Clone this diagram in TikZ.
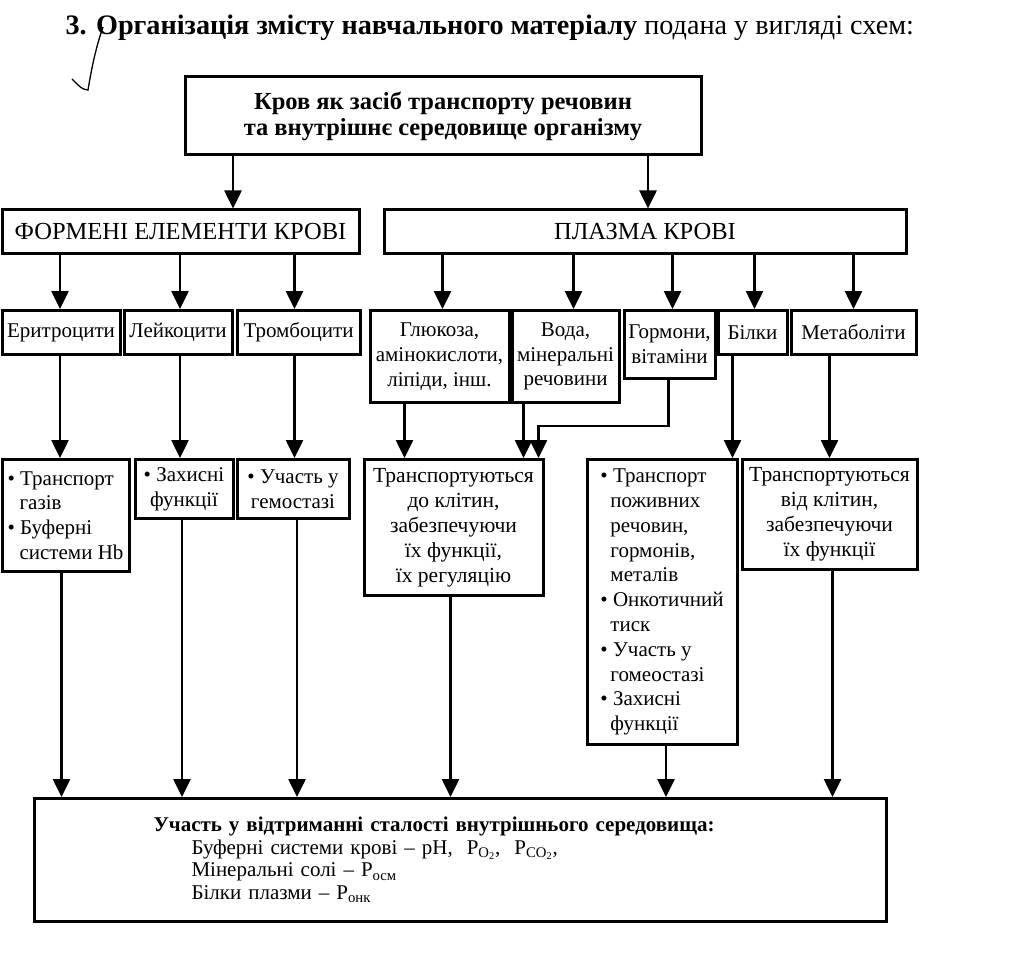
\documentclass[tikz,border=0pt]{standalone}
\usepackage{fontspec}
\setmainfont{Liberation Serif}
\usetikzlibrary{arrows.meta}

\begin{document}
\begin{tikzpicture}[x=1pt,y=-1pt,
        box/.style={draw, line width=3pt, inner sep=2pt, align=center, font=\fontsize{21}{24.8}\selectfont},
        arr/.style={line width=2.6pt, -{Triangle[length=18pt,width=17pt]}}]
        \useasboundingbox (0,0) rectangle (1013,963);
        % заголовок і позначка
        \node[anchor=base west, font=\fontsize{28.2}{30}\selectfont] (title) at (62,35) {\textbf{3. Організація змісту навчального матеріалу} подана у вигляді схем:};
        \draw[line width=1.3pt] (103,27) .. controls (95,50) and (91,72) .. (88,90) .. controls (82,89) .. (72,79);
        % верхній рівень
        \node[box, font=\bfseries\fontsize{24.5}{26}\selectfont, minimum width=516pt, minimum height=78pt] (top) at (443,116) {Кров як засіб транспорту речовин\\та внутрішнє середовище організму};
        \node[box, font=\fontsize{24.5}{26}\selectfont, minimum width=357pt, minimum height=43pt] (form) at (180.5,231.5) {ФОРМЕНІ ЕЛЕМЕНТИ КРОВІ};
        \node[box, font=\fontsize{24.5}{26}\selectfont, minimum width=522pt, minimum height=43pt] (plasma) at (645,231.5) {ПЛАЗМА КРОВІ};
        % складові
        \node[box, anchor=north, minimum width=118pt, minimum height=44pt] (eryth) at (61,309) {Еритроцити};
        \node[box, anchor=north, minimum width=108pt, minimum height=44pt] (leuk) at (178,309) {Лейкоцити};
        \node[box, anchor=north, minimum width=123pt, minimum height=44pt] (thromb) at (298.5,309) {Тромбоцити};
        \node[box, anchor=north, minimum width=139pt, minimum height=92pt] (gluc) at (439.5,309) {Глюкоза,\\амінокислоти,\\ліпіди, інш.};
        \node[box, anchor=north, minimum width=107pt, minimum height=92pt] (water) at (565.5,309) {Вода,\\мінеральні\\речовини};
        \node[box, anchor=north, minimum width=91pt, minimum height=68pt] (horm) at (669.5,309) {Гормони,\\вітаміни};
        \node[box, anchor=north, minimum width=69pt, minimum height=44pt] (prot) at (752.5,309) {Білки};
        \node[box, anchor=north, minimum width=125pt, minimum height=44pt] (metab) at (853.5,309) {Метаболіти};
        % функції
        \node[box, anchor=north, align=left, minimum width=127pt, minimum height=112pt] (fgas) at (65.5,458) {• Транспорт\\\hspace*{12pt}газів\\• Буферні\\\hspace*{12pt}системи Hb};
        \node[box, anchor=north, minimum width=98pt, minimum height=59pt] (fdef) at (184,458) {• Захисні\\функції};
        \node[box, anchor=north, minimum width=112pt, minimum height=59pt] (fhem) at (293,458) {• Участь у\\гемостазі};
        \node[box, anchor=north, font=\fontsize{21.5}{25}\selectfont, minimum width=179pt, minimum height=136pt] (fto) at (453.5,458) {Транспортуються\\до клітин,\\забезпечуючи\\їх функції,\\їх регуляцію};
        \node[box, anchor=north, align=left, minimum width=150pt, minimum height=285pt] (fprot) at (662,458) {• Транспорт\\\hspace*{10pt}поживних\\\hspace*{10pt}речовин,\\\hspace*{10pt}гормонів,\\\hspace*{10pt}металів\\• Онкотичний\\\hspace*{10pt}тиск\\• Участь у\\\hspace*{10pt}гомеостазі\\• Захисні\\\hspace*{10pt}функції};
        \node[box, anchor=north, font=\fontsize{21.5}{25}\selectfont, minimum width=175pt, minimum height=110pt] (ffrom) at (829.5,458) {Транспортуються\\від клітин,\\забезпечуючи\\їх функції};
        % підсумок
        \node[box, anchor=north west, align=left, text width=614pt, inner xsep=119pt, minimum height=123pt, font=\fontsize{21}{22.5}\selectfont] (sum) at (33,797) {\textbf{Участь у відтриманні сталості внутрішнього середовища:}\\\hspace*{38pt}Буферні системи крові – pH,~ P\textsubscript{O\textsubscript{2}},~ P\textsubscript{CO\textsubscript{2}},\\\hspace*{38pt}Мінеральні солі – P\textsubscript{осм}\\\hspace*{38pt}Білки плазми – P\textsubscript{онк}};
        % стрілки
        \draw[arr] ([xshift=-210pt]top.south) -- ([xshift=-210pt]top.south |- form.north);
        \draw[arr] ([xshift=205pt]top.south) -- ([xshift=205pt]top.south |- plasma.north);
        \foreach \n/\s in {eryth/-1, leuk/2, thromb/-4}
            \draw[arr] ([xshift=\s pt]\n.north |- form.south) -- ([xshift=\s pt]\n.north);
        \foreach \n/\s in {gluc/3, water/8, horm/3, prot/2, metab/0}
            \draw[arr] ([xshift=\s pt]\n.north |- plasma.south) -- ([xshift=\s pt]\n.north);
        \draw[arr] ([xshift=-1pt]eryth.south) -- ([xshift=-1pt]eryth.south |- fgas.north);
        \draw[arr] ([xshift=2pt]leuk.south) -- ([xshift=2pt]leuk.south |- fdef.north);
        \draw[arr] ([xshift=-4pt]thromb.south) -- ([xshift=-4pt]thromb.south |- fhem.north);
        \draw[arr] ([xshift=-35pt]gluc.south) -- ([xshift=-35pt]gluc.south |- fto.north);
        \draw[arr] ([xshift=-42pt]water.south) -- ([xshift=-42pt]water.south |- fto.north);
        \draw[arr] ([xshift=-1pt]horm.south) -- ++(0,46) -| ([xshift=85pt]fto.north);
        \draw[arr] ([xshift=-20pt]prot.south) -- ([xshift=-20pt]prot.south |- fprot.north);
        \draw[arr] (metab.south -| ffrom.north) -- (ffrom.north);
        \foreach \n/\s in {fgas/-4, fdef/-2, fhem/4, fto/-3, fprot/4, ffrom/3}
            \draw[arr] ([xshift=\s pt]\n.south) -- ([xshift=\s pt]\n.south |- sum.north);
\end{tikzpicture}
\end{document}
